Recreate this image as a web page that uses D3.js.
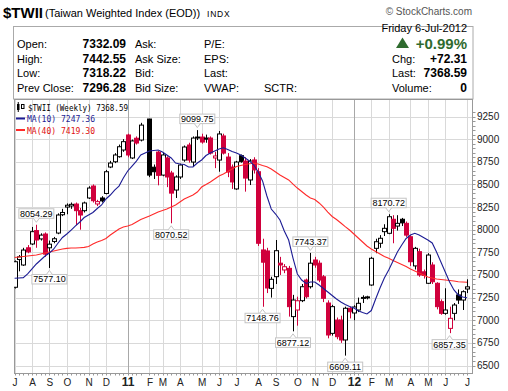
<!DOCTYPE html>
<html>
<head>
<meta charset="utf-8">
<script src="https://cdn.jsdelivr.net/npm/d3@7"></script>
<style>
  body { margin: 0; background: #fff; }
  svg { display: block; font-family: "Liberation Sans", Arial, sans-serif; }
</style>
</head>
<body>
<svg id="chart" width="508" height="391"></svg>
<script>
// weekly bars from the week ending 9-Jul-2010, null = no trading (lunar new year)
const firstWeek = new Date(2010, 6, 9);

const open = [
  7364, 7670, 7610, 7800, 7842, 7990, 7898, 7952, 7800, 7870,
  7963, 8165, 8250, 8262, 8283, 8210, 8210, 8350, 8482, 8284,
  8350, 8400, 8692, 8750, 8806, 8880, 9046, 8792, 9010, 8990,
  null, 9222, 8690, 8857, 8603, 8792, 8626, 8438, 8582, 8769,
  8935, 8747, 9012, 9023, 9012, 9012, 8792, 8769, 9035, 8802,
  8692, 8450, 8817, 8758, 8549, 8770, 8640, 7776, 7765, 7352,
  7481, 7630, 7555, 7573, 7040, 7113, 7216, 7444, 7370, 7665,
  7630, 7480, 7190, 6855, 7002, 7002, 6782, 7132, 7080, 7113,
  7250, 7255, 7389, 7794, 7850, 7978, 7960, 8115, 8040, 8115,
  8070, 7922, 7600, 7757, 7535, 7408, 7610, 7408, 7205, 7076,
  6910, 7076, 7279, 7223, 7345
];
const high = [
  7660, 7720, 7800, 7830, 8030, 8054.29, 7960, 7970, 7880, 7920,
  8180, 8230, 8290, 8300, 8300, 8240, 8310, 8480, 8500, 8330,
  8370, 8660, 8760, 8845, 8940, 9000, 9060, 8995, 9030, 9180,
  null, 9224, 8720, 8870, 8850, 8810, 8650, 8600, 8730, 8930,
  8960, 9030, 9099.75, 9060, 9050, 9030, 8860, 9090, 9060, 8846,
  8720, 8760, 8830, 8800, 8780, 8800, 8680, 7900, 7800, 7480,
  7886, 7700, 7620, 7600, 7280, 7260, 7400, 7460, 7743.37, 7700,
  7660, 7500, 7220, 7170, 7030, 7050, 7150, 7150, 7165, 7250,
  7275, 7270, 7700, 7900, 7940, 8060, 8170.72, 8160, 8160, 8130,
  8090, 7940, 7810, 7790, 7560, 7740, 7640, 7420, 7230, 7353,
  7150, 7190, 7340, 7330, 7452
];
const low = [
  7350, 7540, 7600, 7740, 7830, 7800, 7880, 7700, 7577.10, 7850,
  7950, 8150, 8170, 8230, 8050, 8000, 8190, 8340, 8300, 8260,
  8300, 8390, 8680, 8735, 8795, 8860, 8800, 8780, 8940, 8975,
  null, 8580, 8560, 8490, 8590, 8470, 8070.52, 8350, 8560, 8750,
  8740, 8700, 8990, 8950, 8960, 8830, 8680, 8640, 8830, 8580,
  8450, 8440, 8740, 8420, 8493, 8620, 7820, 7148.76, 7300, 7250,
  7400, 7500, 7520, 7040, 6877.12, 6940, 7200, 7240, 7350, 7580,
  7420, 7200, 6800, 6830, 6790, 6750, 6609.11, 7020, 7000, 7090,
  7190, 7230, 7380, 7740, 7800, 7930, 7950, 7850, 7990, 8040,
  7920, 7600, 7560, 7480, 7460, 7400, 7400, 7120, 7060, 7060,
  6857.35, 7000, 7180, 7113, 7300
];
const close = [
  7646, 7700, 7775, 7755, 7978, 7886, 7940, 7730, 7840, 7900,
  8162, 8190, 8270, 8280, 8210, 8162, 8295, 8460, 8320, 8310,
  8318, 8640, 8736, 8825, 8916, 8972, 8825, 8980, 8957, 9155,
  null, 8603, 8640, 8600, 8825, 8582, 8404, 8582, 8714, 8913,
  8769, 9012, 9023, 8968, 9000, 8846, 8814, 9057, 8846, 8637,
  8527, 8747, 8751, 8570, 8758, 8660, 7850, 7641, 7356, 7452,
  7768, 7610, 7591, 7150, 7223, 7215, 7370, 7260, 7630, 7610,
  7444, 7242, 6837, 7150, 6818, 6782, 7132, 7094, 7146, 7187,
  7252, 7258, 7684, 7867, 7905, 8015, 8143, 8015, 8070, 8075,
  7940, 7646, 7794, 7500, 7495, 7720, 7425, 7150, 7076, 7113,
  7021, 7168, 7223, 7315, 7368.59
];
const ma10 = [
  7463, 7466, 7470, 7511, 7566, 7621, 7665, 7709, 7742, 7787,
  7853, 7914, 7952, 7996, 8041, 8085, 8134, 8162, 8190, 8234,
  8273, 8339, 8383, 8438, 8482, 8571, 8648, 8703, 8758, 8825,
  null, 8869, 8874, 8880, 8858, 8825, 8792, 8736, 8725, 8720,
  8692, 8692, 8736, 8770, 8819, 8847, 8869, 8891, 8905, 8885,
  8863, 8847, 8825, 8792, 8758, 8714, 8637, 8538, 8372, 8228,
  8173, 8107, 7985, 7886, 7687, 7511, 7444, 7406, 7422, 7422,
  7389, 7350, 7312, 7273, 7234, 7201, 7174, 7152, 7135, 7105,
  7085, 7069, 7107, 7234, 7356, 7466, 7555, 7654, 7753, 7831,
  7903, 7941, 7960, 7941, 7914, 7886, 7853, 7753, 7643, 7533,
  7422, 7334, 7279, 7257, 7247.36
];
const ma40 = [
  7693, 7698, 7704, 7709, 7715, 7720, 7731, 7742, 7753, 7765,
  7776, 7787, 7794, 7798, 7798, 7801, 7805, 7814, 7842, 7864,
  7881, 7903, 7941, 7974, 8008, 8030, 8041, 8057, 8085, 8112,
  null, 8151, 8173, 8195, 8212, 8228, 8250, 8273, 8306, 8339,
  8361, 8383, 8416, 8471, 8499, 8527, 8560, 8593, 8615, 8643,
  8670, 8698, 8709, 8720, 8728, 8733, 8725, 8709, 8696, 8670,
  8637, 8604, 8576, 8549, 8504, 8460, 8422, 8383, 8350, 8333,
  8295, 8250, 8195, 8146, 8112, 8074, 8033, 7996, 7952, 7908,
  7864, 7820, 7787, 7759, 7731, 7704, 7684, 7660, 7638, 7615,
  7593, 7566, 7544, 7522, 7499, 7477, 7466, 7455, 7450, 7444,
  7439, 7433, 7425, 7422, 7419.30
];
// bars carrying a value callout (bar number, high or low)
const callouts = [[5, "high"], [8, "low"], [36, "low"], [42, "high"], [57, "low"],
  [64, "low"], [68, "high"], [76, "low"], [86, "high"], [100, "low"]];
const yTicks = d3.range(6500, 9251, 250);

const svg = d3.select("#chart");
const pL = 14, pR = 473, pT = 99, pB = 373;

const weeks = open.map((_, i) => d3.timeDay.offset(firstWeek, 7 * i));
const bars = weeks.map((d, i) => ({
  date: d, o: open[i], h: high[i], l: low[i], c: close[i],
  prev: i > 0 ? close[i - 1] : null
})).filter(d => d.o != null);

const x = d3.scaleTime()
  .domain([new Date(2010, 6, 2), new Date(2012, 6, 6)])
  .range([10.25, 467]);
const y = d3.scaleLinear().domain([6500, 9250]).range([365.5, 116.5]);

svg.append("rect").attr("width", 508).attr("height", 391).attr("fill", "#fff");

// header
svg.append("text").attr("x", 3).attr("y", 18)
  .style("font-size", "15px").style("font-weight", "bold").text("$TWII");
svg.append("text").attr("x", 45).attr("y", 17)
  .style("font-size", "11px").text("(Taiwan Weighted Index (EOD))");
svg.append("text").attr("x", 207).attr("y", 16.5)
  .style("font-size", "8.5px").style("letter-spacing", "0.8px").text("INDX");
svg.append("text").attr("x", 472).attr("y", 15).attr("text-anchor", "end")
  .style("font-size", "10px").attr("fill", "#555").text("\u00a9 StockCharts.com");

svg.append("rect").attr("x", 13.5).attr("y", 26.5).attr("width", 459.5).attr("height", 72.5)
  .attr("fill", "none").attr("stroke", "#aaa");

const rows = [48, 62.5, 77, 91.5];
const info = [
  ["Open:", "7332.09", "Ask:", "P/E:"],
  ["High:", "7442.55", "Ask Size:", "EPS:"],
  ["Low:", "7318.22", "Bid:", "Last:"],
  ["Prev Close:", "7296.28", "Bid Size:", "VWAP:"]
];
info.forEach((r, i) => {
  const g = svg.append("g").style("font-size", "11px");
  g.append("text").attr("x", 17).attr("y", rows[i]).text(r[0]);
  g.append("text").attr("x", 126).attr("y", rows[i]).attr("text-anchor", "end")
    .style("font-weight", "bold").style("font-size", "12px").text(r[1]);
  g.append("text").attr("x", 135).attr("y", rows[i]).text(r[2]);
  g.append("text").attr("x", 204).attr("y", rows[i]).text(r[3]);
});
svg.append("text").attr("x", 264).attr("y", rows[3]).style("font-size", "11px").text("SCTR:");

svg.append("text").attr("x", 467).attr("y", 32).attr("text-anchor", "end")
  .style("font-size", "11px").text("Friday  6-Jul-2012");
svg.append("path").attr("d", "M396,48 L402.5,37.5 L409,48 Z").attr("fill", "#2f6b2f");
svg.append("text").attr("x", 467).attr("y", 48.5).attr("text-anchor", "end")
  .style("font-size", "15px").style("font-weight", "bold").attr("fill", "#2f6b2f").text("+0.99%");
[["Chg:", "+72.31", rows[1]], ["Last:", "7368.59", rows[2]], ["Volume:", "0", rows[3]]].forEach(r => {
  svg.append("text").attr("x", 392).attr("y", r[2]).style("font-size", "11px").text(r[0]);
  svg.append("text").attr("x", 467).attr("y", r[2]).attr("text-anchor", "end")
    .style("font-size", "12px").style("font-weight", "bold").text(r[1]);
});

// plot frame and grid
svg.append("defs").append("clipPath").attr("id", "plot")
  .append("rect").attr("x", pL).attr("y", pT).attr("width", pR - pL).attr("height", pB - pT);

const grid = svg.append("g");
grid.selectAll(".hg").data(yTicks).enter().append("line")
  .attr("x1", pL).attr("x2", pR)
  .attr("y1", d => Math.round(y(d)) + 0.5).attr("y2", d => Math.round(y(d)) + 0.5)
  .attr("stroke", "#d9d9d9");

// first bar of each month
const monthStarts = bars.filter((d, i) => i === 0 || d.date.getMonth() !== bars[i - 1].date.getMonth());
grid.selectAll(".vg").data(monthStarts).enter().append("line")
  .attr("x1", d => Math.round(x(d.date)) + 0.5).attr("x2", d => Math.round(x(d.date)) + 0.5)
  .attr("y1", pT).attr("y2", pB)
  .attr("stroke", d => d.date.getMonth() === 0 ? "#a8a8a8" : "#d9d9d9");

svg.append("rect").attr("x", pL + 0.5).attr("y", pT + 0.5)
  .attr("width", pR - pL - 1).attr("height", pB - pT)
  .attr("fill", "none").attr("stroke", "#999");

// minor ticks
svg.append("g").selectAll("line").data(d3.range(6500, 9301, 50)).enter().append("line")
  .attr("x1", pR).attr("x2", pR + 2.5)
  .attr("y1", d => Math.round(y(d)) + 0.5).attr("y2", d => Math.round(y(d)) + 0.5)
  .attr("stroke", "#999");
svg.append("g").selectAll("line").data(bars).enter().append("line")
  .attr("x1", d => Math.round(x(d.date)) + 0.5).attr("x2", d => Math.round(x(d.date)) + 0.5)
  .attr("y1", pB).attr("y2", pB + 2.5)
  .attr("stroke", "#999");

// axis labels
svg.append("g").selectAll("text").data(yTicks).enter().append("text")
  .attr("x", 477).attr("y", d => y(d) + 3.5)
  .style("font-size", "10px").attr("fill", "#222").text(d => d);

const monthLetter = "JFMAMJJASOND";
svg.append("g").selectAll("text").data(monthStarts).enter().append("text")
  .attr("x", d => x(d.date) + 0.5).attr("y", 386).attr("text-anchor", "middle")
  .style("font-size", d => d.date.getMonth() === 0 ? "12px" : "10px")
  .style("font-weight", d => d.date.getMonth() === 0 ? "bold" : "normal")
  .attr("fill", "#222")
  .text(d => d.date.getMonth() === 0 ? d3.timeFormat("%y")(d.date) : monthLetter[d.date.getMonth()]);

// candles
const red = "#d0003c";
const colour = d => (d.prev == null || d.c >= d.prev) ? "#000" : red;
const plot = svg.append("g").attr("clip-path", "url(#plot)");
const candle = plot.selectAll(".candle").data(bars).enter().append("g");
candle.append("line")
  .attr("x1", d => Math.round(x(d.date)) + 0.5).attr("x2", d => Math.round(x(d.date)) + 0.5)
  .attr("y1", d => y(d.h)).attr("y2", d => y(d.l))
  .attr("stroke", colour);
candle.append("rect")
  .attr("x", d => Math.round(x(d.date)) - 1.5)
  .attr("y", d => y(Math.max(d.o, d.c)))
  .attr("width", 4)
  .attr("height", d => Math.max(1, Math.abs(y(d.o) - y(d.c))))
  .attr("fill", d => d.c > d.o ? "#fff" : colour(d))
  .attr("stroke", colour);

// moving averages
const maLine = vals => d3.line()
  .x(d => x(d.date)).y(d => y(vals[d.i]));
const pts = weeks.map((d, i) => ({ date: d, i })).filter(d => ma10[d.i] != null);
plot.append("path").datum(pts).attr("d", maLine(ma40))
  .attr("fill", "none").attr("stroke", "#ff2a2a").attr("stroke-width", 1.1);
plot.append("path").datum(pts).attr("d", maLine(ma10))
  .attr("fill", "none").attr("stroke", "#1c1c94").attr("stroke-width", 1.1);

// callouts
const series = { high, low };
callouts.forEach(([i, kind]) => {
  const v = series[kind][i];
  const cx = x(weeks[i]);
  const py = y(v);
  const bw = 35, bh = 9.5;
  const g = svg.append("g");
  let by, tri;
  if (kind === "high") {
    by = py - 6.5 - bh;
    tri = `M${cx - 3},${by + bh} L${cx},${py - 2.5} L${cx + 3},${by + bh}`;
  } else {
    by = py + 6.5;
    tri = `M${cx - 3},${by} L${cx},${py + 2.5} L${cx + 3},${by}`;
  }
  g.append("rect").attr("x", cx - bw / 2).attr("y", by).attr("width", bw).attr("height", bh)
    .attr("fill", "#fff").attr("stroke", "#c4c4c4");
  g.append("path").attr("d", tri).attr("fill", "#fff").attr("stroke", "#c4c4c4");
  g.append("text").attr("x", cx).attr("y", by + 8).attr("text-anchor", "middle")
    .style("font-size", "9px").text(d3.format(".2f")(v));
});

// legend
const lg = svg.append("g").style("font-family", "'DejaVu Sans Mono', monospace").style("font-size", "9px");
lg.append("rect").attr("x", 17).attr("y", 104).attr("width", 2.5).attr("height", 6).attr("fill", "#000");
lg.append("line").attr("x1", 18.25).attr("x2", 18.25).attr("y1", 102).attr("y2", 112).attr("stroke", "#000");
lg.append("rect").attr("x", 21.5).attr("y", 104.5).attr("width", 2.5).attr("height", 4).attr("fill", "#fff").attr("stroke", "#000");
lg.append("text").attr("x", 28).attr("y", 111).attr("textLength", 100).attr("lengthAdjust", "spacingAndGlyphs")
  .text("$TWII (Weekly) 7368.59");
lg.append("line").attr("x1", 16).attr("x2", 25).attr("y1", 118.5).attr("y2", 118.5)
  .attr("stroke", "#1c1c94").attr("stroke-width", 2);
lg.append("text").attr("x", 27).attr("y", 122).attr("fill", "#1c1c94")
  .attr("textLength", 68).attr("lengthAdjust", "spacingAndGlyphs").text("MA(10) 7247.36");
lg.append("line").attr("x1", 16).attr("x2", 25).attr("y1", 130).attr("y2", 130)
  .attr("stroke", "#ff2a2a").attr("stroke-width", 2);
lg.append("text").attr("x", 27).attr("y", 133.5).attr("fill", "#e01010")
  .attr("textLength", 68).attr("lengthAdjust", "spacingAndGlyphs").text("MA(40) 7419.30");
</script>
</body>
</html>
